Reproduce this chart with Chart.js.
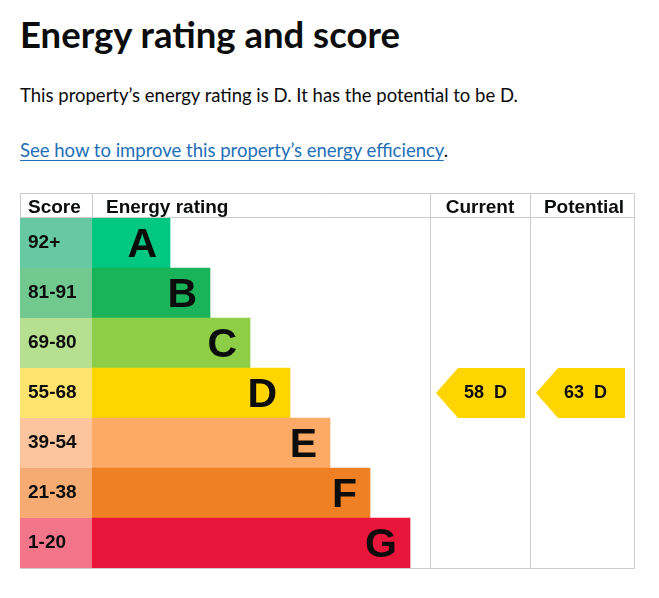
<!DOCTYPE html>
<html>
<head>
<meta charset="utf-8">
<script src="https://cdn.jsdelivr.net/npm/chart.js@4"></script>
<style>
  html, body { margin: 0; padding: 0; background: #fff; }
  body { width: 659px; height: 598px; position: relative; overflow: hidden; font-family: Lato, "Noto Sans", sans-serif; color: #0b0c0c; }
  h1 { position: absolute; left: 20px; top: 16px; margin: 0; font-size: 36.5px; line-height: 36px; font-weight: 700; }
  .p { position: absolute; left: 20px; margin: 0; font-size: 18.5px; line-height: 20px; white-space: nowrap; }
  a { color: #1d70b8; text-decoration: underline; text-underline-offset: 3px; }
  #epc { position: absolute; left: 20px; top: 193px; width: 615px; height: 376px; }
</style>
</head>
<body>
<h1>Energy rating and score</h1>
<p class="p" style="top:85px">This property’s energy rating is D. It has the potential to be D.</p>
<p class="p" style="top:140px"><a href="#">See how to improve this property’s energy efficiency</a>.</p>
<div id="epc"><canvas id="epcChart"></canvas></div>

<script>
// EPC bands
const bands = ['A', 'B', 'C', 'D', 'E', 'F', 'G'];
const scoreRanges = ['92+', '81-91', '69-80', '55-68', '39-54', '21-38', '1-20'];
const barLengths = [1.95, 2.95, 3.95, 4.95, 5.95, 6.95, 7.95];
const barColours = ['#00c781', '#19b459', '#8dce46', '#ffd500', '#fcaa65', '#ef8023', '#e9153b'];
const scoreColours = ['#66c9a3', '#72c98f', '#b6df8f', '#fee46e', '#fdc59d', '#f5ab72', '#f27589'];
const currentScore = 58, currentBand = 'D';
const potentialScore = 63, potentialBand = 'D';

const LINE = '#cccccc';
const ARIAL = '"Liberation Sans", Arial, sans-serif';

const epcTable = {
  id: 'epcTable',
  beforeDatasetsDraw(chart) {
    const { ctx, chartArea } = chart;
    const bars = chart.getDatasetMeta(0).data;
    bars.forEach((b, i) => {
      ctx.fillStyle = scoreColours[i];
      ctx.fillRect(0, b.y - b.height / 2, chartArea.left, b.height);
    });
  },
  afterDraw(chart) {
    const { ctx, chartArea, width, height } = chart;
    const bars = chart.getDatasetMeta(0).data;
    const curL = chartArea.right, curR = chartArea.right + 100, potR = width - 1;

    // letters + score labels
    bars.forEach((b, i) => {
      const top = b.y - b.height / 2;
      ctx.fillStyle = '#0b0c0c';
      ctx.font = 'bold 41px ' + ARIAL;
      ctx.textAlign = 'right';
      ctx.fillText(bands[i], b.x - 13, top + 39);
      ctx.font = 'bold 19px ' + ARIAL;
      ctx.textAlign = 'left';
      ctx.fillText(scoreRanges[i], 8, top + 30);
    });

    // arrows
    function arrow(band, score, colL) {
      const i = bands.indexOf(band);
      const b = bars[i];
      const top = b.y - b.height / 2, bot = top + b.height;
      const l = colL + 6, r = l + 89, tip = 22;
      ctx.fillStyle = barColours[i];
      ctx.beginPath();
      ctx.moveTo(l, b.y);
      ctx.lineTo(l + tip, top);
      ctx.lineTo(r, top);
      ctx.lineTo(r, bot);
      ctx.lineTo(l + tip, bot);
      ctx.closePath();
      ctx.fill();
      ctx.fillStyle = '#0b0c0c';
      ctx.font = 'bold 18px ' + ARIAL;
      ctx.textAlign = 'left';
      ctx.fillText(score + '  ' + band, l + tip + 6, top + 30);
    }
    arrow(currentBand, currentScore, curL);
    arrow(potentialBand, potentialScore, curR);

    // header
    ctx.fillStyle = '#0b0c0c';
    ctx.font = 'bold 19px ' + ARIAL;
    ctx.textAlign = 'left';
    ctx.fillText('Score', 8, 20);
    ctx.fillText('Energy rating', chartArea.left + 14, 20);
    ctx.textAlign = 'center';
    ctx.fillText('Current', (curL + curR) / 2, 20);
    ctx.fillText('Potential', (curR + potR) / 2 + 2, 20);

    // grid lines
    ctx.strokeStyle = LINE;
    ctx.lineWidth = 1;
    ctx.beginPath();
    ctx.moveTo(0, 0.5); ctx.lineTo(potR + 0.5, 0.5);
    ctx.moveTo(0, chartArea.top - 0.5); ctx.lineTo(potR + 0.5, chartArea.top - 0.5);
    ctx.moveTo(0, height - 0.5); ctx.lineTo(potR + 0.5, height - 0.5);
    ctx.moveTo(0.5, 0); ctx.lineTo(0.5, chartArea.top);
    ctx.moveTo(chartArea.left + 0.5, 0); ctx.lineTo(chartArea.left + 0.5, chartArea.top);
    [curL, curR, potR].forEach(x => { ctx.moveTo(x + 0.5, 0); ctx.lineTo(x + 0.5, height); });
    ctx.stroke();
  }
};

new Chart(document.getElementById('epcChart'), {
  type: 'bar',
  data: {
    labels: bands,
    datasets: [{
      data: barLengths,
      backgroundColor: barColours,
      borderWidth: 0,
      barPercentage: 1,
      categoryPercentage: 1
    }]
  },
  options: {
    indexAxis: 'y',
    responsive: true,
    maintainAspectRatio: false,
    animation: false,
    events: [],
    layout: { padding: { left: 72, right: 205, top: 25, bottom: 1 } },
    scales: {
      x: { display: false, min: 0, max: 8.45 },
      y: { display: false }
    },
    plugins: { legend: { display: false }, tooltip: { enabled: false } }
  },
  plugins: [epcTable]
});
</script>
</body>
</html>
